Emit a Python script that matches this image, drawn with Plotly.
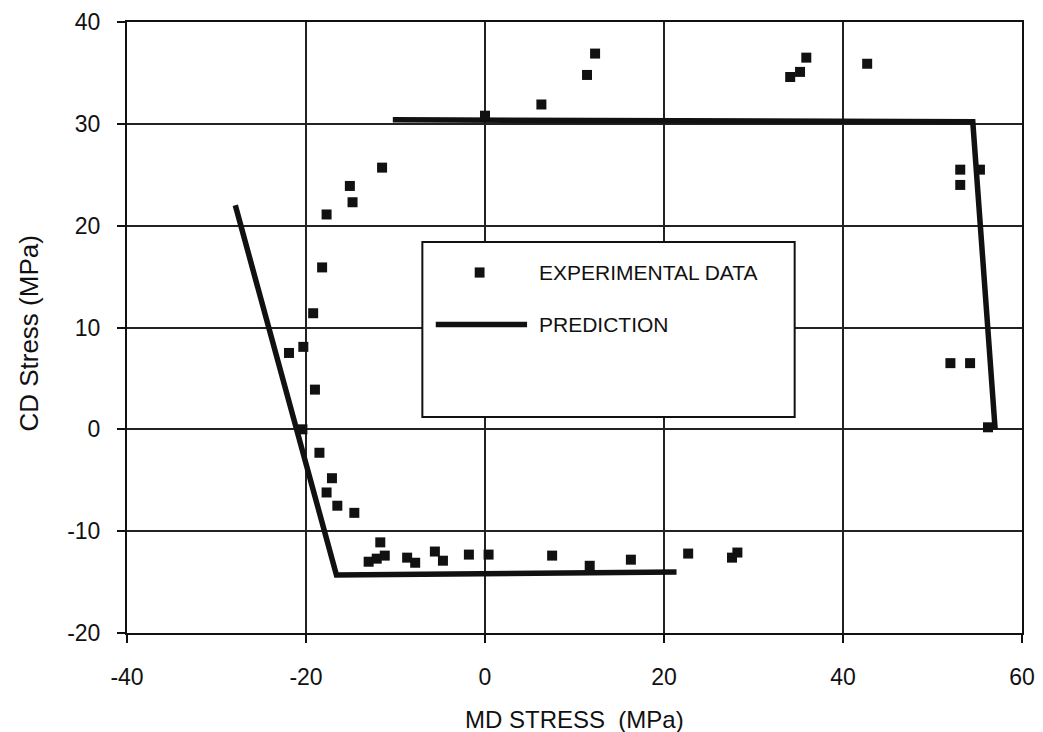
import plotly.graph_objects as go

# Experimental data (MD stress, CD stress) in MPa
exp_x = [-21.9, -20.3, -19.2, -18.2, -17.7, -19.0, -20.4, -18.5, -17.1, -17.7,
         -16.5, -14.6, -15.1, -14.8, -11.5,
         -11.7, -13.0, -12.1, -11.2, -8.7, -7.8, -5.6, -4.7, -1.8, 0.4,
         7.5, 11.7, 16.3, 22.7, 27.6, 28.2,
         0.0, 6.3, 11.4, 12.3, 34.1, 35.2, 35.9, 42.7,
         53.1, 53.1, 55.3, 52.0, 54.2, 56.2]
exp_y = [7.5, 8.1, 11.4, 15.9, 21.1, 3.9, 0.0, -2.3, -4.8, -6.2,
         -7.5, -8.2, 23.9, 22.3, 25.7,
         -11.1, -13.0, -12.7, -12.4, -12.6, -13.1, -12.0, -12.9, -12.3, -12.3,
         -12.4, -13.4, -12.8, -12.2, -12.6, -12.1,
         30.8, 31.9, 34.8, 36.9, 34.6, 35.1, 36.5, 35.9,
         25.5, 24.0, 25.5, 6.5, 6.5, 0.2]

# Prediction envelope (two branches separated by None)
pred_x = [-27.9, -16.6, 21.4, None, -10.3, 54.5, 57.0]
pred_y = [22.0, -14.3, -14.0, None, 30.4, 30.2, 0.0]

x_ticks = [-40, -20, 0, 20, 40, 60]
x_tick_labels = ["-40", "-20", "0", "20", "40", "60"]
y_ticks = [-20, -10, 0, 10, 20, 30, 40]
y_tick_labels = ["-20", "-10", "0", "10", "20", "30", "40"]

legend_labels = ["EXPERIMENTAL DATA", "PREDICTION"]

FONT = "Liberation Sans, Arial, sans-serif"
INK = "#111111"

fig = go.Figure()
fig.add_trace(go.Scatter(
    x=pred_x, y=pred_y, mode="lines", name=legend_labels[1],
    line=dict(color=INK, width=5.5), connectgaps=False, showlegend=False))
fig.add_trace(go.Scatter(
    x=exp_x, y=exp_y, mode="markers", name=legend_labels[0],
    marker=dict(symbol="square", size=10, color=INK), showlegend=False))

# Manual legend box (decoration)
shapes = [
    dict(type="rect", xref="x", yref="y", x0=-7.0, x1=34.6, y0=1.2, y1=18.4,
         line=dict(color=INK, width=2), fillcolor="white", layer="above"),
    dict(type="rect", xref="x", yref="y", x0=-1.15, x1=-0.05, y0=14.9, y1=15.9,
         line=dict(width=0), fillcolor=INK, layer="above"),
    dict(type="line", xref="x", yref="y", x0=-5.5, x1=4.7, y0=10.3, y1=10.3,
         line=dict(color=INK, width=5.5), layer="above"),
]

annotations = [
    dict(x=5.8, y=15.4, xref="x", yref="y", text=legend_labels[0], showarrow=False,
         xanchor="left", yanchor="middle", font=dict(family=FONT, size=21, color=INK)),
    dict(x=5.8, y=10.3, xref="x", yref="y", text=legend_labels[1], showarrow=False,
         xanchor="left", yanchor="middle", font=dict(family=FONT, size=21, color=INK)),
    dict(x=0.5, y=0, xref="paper", yref="paper", yshift=-86,
         text="MD STRESS\u00a0\u00a0(MPa)", showarrow=False,
         xanchor="center", yanchor="middle",
         font=dict(family=FONT, size=24, color=INK)),
    dict(x=0, y=0.49, xref="paper", yref="paper", xshift=-98,
         text="CD Stress (MPa)", showarrow=False, textangle=-90,
         xanchor="center", yanchor="middle",
         font=dict(family=FONT, size=26, color=INK)),
]

axis_common = dict(
    showgrid=True, gridcolor="#222222", gridwidth=1.5,
    showline=True, linecolor=INK, linewidth=2, mirror=True,
    ticks="outside", ticklen=8, tickcolor=INK, tickwidth=1.5,
    zeroline=False, automargin=False, ticklabeloverflow="allow",
    tickfont=dict(family=FONT, size=23, color=INK),
)

# The page body adds an 8px offset; size and margins compensate for it.
fig.update_layout(
    width=1035, height=724,
    margin=dict(l=119, r=21, t=14, b=99),
    paper_bgcolor="white", plot_bgcolor="white",
    shapes=shapes, annotations=annotations,
    xaxis=dict(range=[-40, 60], tickvals=x_ticks, ticktext=x_tick_labels,
               ticklabelstandoff=14, **axis_common),
    yaxis=dict(range=[-20, 40], tickvals=y_ticks, ticktext=y_tick_labels,
               ticklabelstandoff=12, **axis_common),
)

fig.write_html("out.html")
